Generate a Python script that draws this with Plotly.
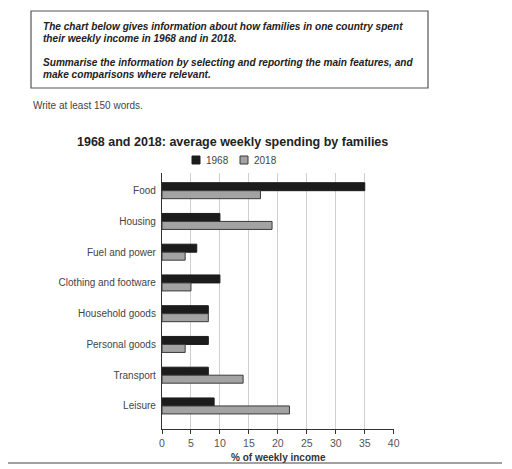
import plotly.graph_objects as go

categories = ['Food', 'Housing', 'Fuel and power', 'Clothing and footware',
              'Household goods', 'Personal goods', 'Transport', 'Leisure']
spend_1968 = [35, 10, 6, 10, 8, 8, 8, 9]
spend_2018 = [17, 19, 4, 5, 8, 4, 14, 22]
x_ticks = [0, 5, 10, 15, 20, 25, 30, 35, 40]

# the page body has an 8px margin, so the figure starts at (8, 8) on screen
OFF = 8
W, H = 512 - OFF, 469 - OFF
L, R, T, B = 162, 394, 173, 429  # plot area, screen pixels

COL_1968 = '#1c1c1c'
COL_2018 = '#a3a3a3'


def px(x):
    return (x - L) / (R - L)


def py(y):
    return (B - y) / (B - T)


FONT = 'Liberation Sans, Arial, sans-serif'

fig = go.Figure()
fig.add_trace(go.Bar(y=categories, x=spend_1968, name='1968', orientation='h',
                     marker=dict(color=COL_1968, line=dict(color=COL_1968, width=1))))
fig.add_trace(go.Bar(y=categories, x=spend_2018, name='2018', orientation='h',
                     marker=dict(color=COL_2018, line=dict(color='#3a3a3a', width=1))))

# instruction box and text above the chart
fig.add_shape(type='rect', xref='paper', yref='paper',
              x0=px(31), x1=px(428), y0=py(88), y1=py(11),
              line=dict(color='#555', width=1.2))
fig.add_shape(type='line', xref='paper', yref='paper',
              x0=px(8), x1=px(502), y0=py(463), y1=py(463),
              line=dict(color='#444', width=1))
box_lines = [
    ('The chart below gives information about how families in one country spent', 26),
    ('their weekly income in 1968 and in 2018.', 38),
    ('Summarise the information by selecting and reporting the main features, and', 62),
    ('make comparisons where relevant.', 74),
]
for txt, yy in box_lines:
    fig.add_annotation(text='<b><i>' + txt + '</i></b>', xref='paper', yref='paper',
                       x=px(41), y=py(yy), xanchor='left', yanchor='middle',
                       showarrow=False, font=dict(size=10.1, color='#222', family=FONT))
fig.add_annotation(text='Write at least 150 words.', xref='paper', yref='paper',
                   x=px(31), y=py(105), xanchor='left', yanchor='middle',
                   showarrow=False, font=dict(size=10, color='#444', family=FONT))
fig.add_annotation(text='<b>1968 and 2018: average weekly spending by families</b>',
                   xref='paper', yref='paper', x=px(232), y=py(142),
                   xanchor='center', yanchor='middle', showarrow=False,
                   font=dict(size=12.5, color='#222', family=FONT))
fig.add_annotation(text='<b>% of weekly income</b>', xref='paper', yref='paper',
                   x=0.5, y=py(457), xanchor='center', yanchor='middle',
                   showarrow=False, font=dict(size=10, color='#333', family=FONT))

# legend: small squares with labels
for name, col, edge, sx in [('1968', COL_1968, COL_1968, 196), ('2018', COL_2018, '#3a3a3a', 244)]:
    fig.add_shape(type='rect', xref='paper', yref='paper',
                  x0=px(sx - 4), x1=px(sx + 4), y0=py(164), y1=py(156),
                  fillcolor=col, line=dict(color=edge, width=1))
    fig.add_annotation(text=name, xref='paper', yref='paper',
                       x=px(sx + 8), y=py(160), xanchor='left', yanchor='middle',
                       showarrow=False, font=dict(size=10, color='#444', family=FONT))

fig.update_layout(
    width=W, height=H,
    margin=dict(l=L - OFF, r=512 - R, t=T - OFF, b=469 - B),
    paper_bgcolor='white', plot_bgcolor='white',
    barmode='group', bargap=0.48, bargroupgap=0,
    font=dict(family=FONT, color='#444', size=10),
    showlegend=False,
    xaxis=dict(range=[0, 40.05], tickvals=x_ticks, showgrid=True, gridcolor='#cfcfcf',
               gridwidth=1, showline=True, linecolor='#333', linewidth=1.2,
               ticks='outside', ticklen=4, tickcolor='#333', zeroline=False,
               tickfont=dict(size=10.5, color='#555'), automargin=False),
    yaxis=dict(range=[7.75, -0.575], showline=True, linecolor='#333', linewidth=1.2,
               ticks='', showgrid=False, tickfont=dict(size=10, color='#444'),
               ticklabelstandoff=3, automargin=False),
)

fig.write_html('out.html')
